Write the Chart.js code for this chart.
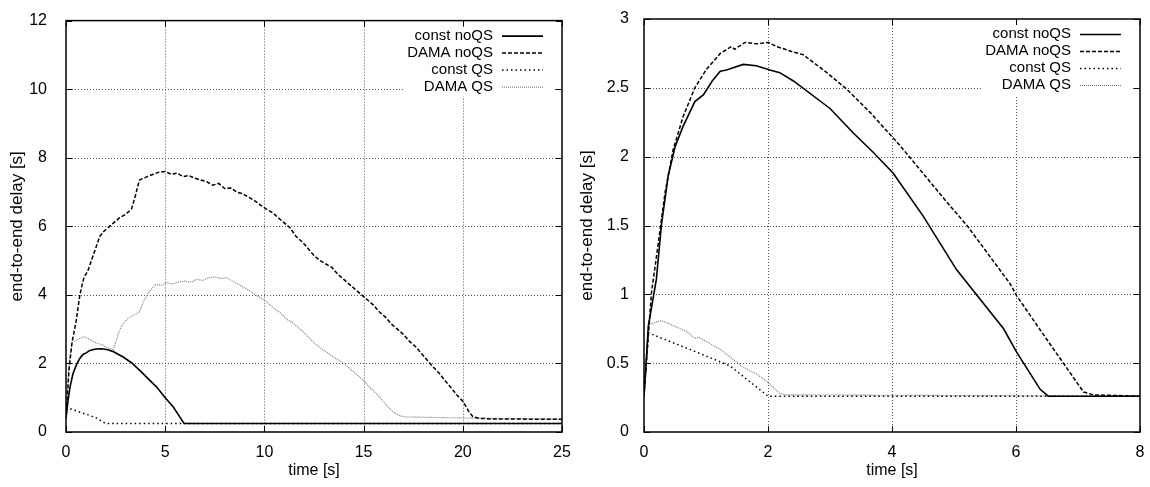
<!DOCTYPE html>
<html><head><meta charset="utf-8">
<script src="https://cdn.jsdelivr.net/npm/chart.js@4.4.1/dist/chart.umd.min.js"></script>
<style>
html,body{margin:0;padding:0;background:#fff;width:1150px;height:487px;overflow:hidden}
#l{position:absolute;left:0;top:0}
#r{position:absolute;left:575px;top:0}
</style></head><body>
<canvas id="l" width="575" height="487"></canvas>
<canvas id="r" width="575" height="487"></canvas>
<script>
const seriesNames = ['const noQS', 'DAMA noQS', 'const QS', 'DAMA QS'];
const xTitle = 'time [s]';
const yTitle = 'end-to-end delay [s]';

// ---- left panel ----
const leftXTicks = [0, 5, 10, 15, 20, 25];
const leftYTicks = [0, 2, 4, 6, 8, 10, 12];
const leftConstNoQS_t = [0, 0.1, 0.2, 0.35, 0.54, 0.7, 0.87, 1.0, 1.2, 1.5, 1.8, 2.1, 2.4, 2.9, 3.3, 3.73, 4.2, 4.57, 5.0, 5.41, 5.7, 5.95, 25];
const leftConstNoQS_v = [0.4, 0.9, 1.3, 1.7, 1.98, 2.15, 2.27, 2.3, 2.38, 2.42, 2.43, 2.4, 2.34, 2.18, 2.02, 1.79, 1.52, 1.31, 1.0, 0.73, 0.47, 0.25, 0.25];
const leftDamaNoQS_t = [0, 0.15, 0.3, 0.5, 0.7, 0.9, 1.1, 1.4, 1.7, 1.9, 2.1, 2.4, 2.7, 3.0, 3.3, 3.5, 3.7, 3.9, 4.1, 4.4, 4.7, 5.0, 5.3, 5.6, 5.9, 6.2, 6.5, 6.8, 7.1, 7.4, 7.7, 8.0, 8.3, 8.6, 8.9, 9.2, 9.5, 9.8, 10.1, 10.4, 10.7, 11.0, 11.3, 11.6, 11.9, 12.2, 12.5, 12.8, 13.1, 13.4, 13.7, 14.0, 14.3, 14.6, 14.9, 15.2, 15.5, 15.8, 16.1, 16.4, 16.7, 17.0, 17.3, 17.6, 17.9, 18.2, 18.5, 18.8, 19.1, 19.4, 19.7, 20.0, 20.3, 20.5, 20.8, 21.5, 25];
const leftDamaNoQS_v = [0.4, 1.8, 2.6, 3.2, 4.0, 4.5, 4.7, 5.2, 5.7, 5.85, 5.95, 6.1, 6.25, 6.35, 6.5, 6.9, 7.35, 7.4, 7.45, 7.52, 7.58, 7.6, 7.52, 7.55, 7.45, 7.48, 7.4, 7.35, 7.3, 7.2, 7.25, 7.1, 7.12, 7.0, 6.95, 6.85, 6.75, 6.62, 6.5, 6.4, 6.25, 6.1, 5.95, 5.7, 5.55, 5.35, 5.15, 5.0, 4.9, 4.8, 4.6, 4.45, 4.3, 4.15, 4.0, 3.85, 3.7, 3.5, 3.35, 3.15, 3.0, 2.85, 2.65, 2.5, 2.3, 2.1, 1.9, 1.72, 1.5, 1.3, 1.08, 0.9, 0.6, 0.45, 0.4, 0.38, 0.37];
const leftConstQS_t = [0, 0.5, 1.0, 1.5, 1.75, 2.0, 25];
const leftConstQS_v = [0.72, 0.62, 0.52, 0.42, 0.33, 0.25, 0.25];
const leftDamaQS_t = [0, 0.15, 0.3, 0.6, 0.9, 1.2, 1.5, 1.8, 2.1, 2.4, 2.6, 2.8, 3.1, 3.4, 3.7, 3.9, 4.2, 4.5, 4.8, 5.1, 5.4, 5.7, 6.0, 6.3, 6.6, 6.9, 7.2, 7.5, 7.8, 8.1, 8.4, 8.7, 9.0, 9.3, 9.6, 9.9, 10.2, 10.5, 10.8, 11.1, 11.4, 11.7, 12.0, 12.3, 12.6, 12.9, 13.2, 13.5, 13.8, 14.1, 14.4, 14.7, 15.0, 15.3, 15.6, 15.9, 16.2, 16.5, 16.8, 17.1, 18, 19, 20, 21, 25];
const leftDamaQS_v = [0.45, 2.0, 2.6, 2.7, 2.78, 2.7, 2.6, 2.55, 2.45, 2.4, 2.8, 3.1, 3.3, 3.4, 3.5, 3.8, 4.1, 4.3, 4.28, 4.35, 4.32, 4.38, 4.4, 4.37, 4.45, 4.42, 4.5, 4.52, 4.48, 4.5, 4.4, 4.3, 4.2, 4.1, 3.98, 3.88, 3.75, 3.6, 3.48, 3.3, 3.2, 3.05, 2.9, 2.72, 2.55, 2.42, 2.3, 2.18, 2.08, 1.95, 1.8, 1.65, 1.5, 1.3, 1.15, 0.95, 0.75, 0.58, 0.48, 0.44, 0.43, 0.42, 0.41, 0.4, 0.38];

// ---- right panel ----
const rightXTicks = [0, 2, 4, 6, 8];
const rightYTicks = [0, 0.5, 1, 1.5, 2, 2.5, 3];
const rightConstNoQS_t = [0, 0.07, 0.2, 0.28, 0.39, 0.5, 0.63, 0.82, 0.96, 1.1, 1.23, 1.33, 1.6, 1.81, 2.03, 2.19, 2.41, 3.0, 3.38, 3.7, 4.02, 4.5, 5.04, 5.8, 6.01, 6.39, 6.52, 8];
const rightConstNoQS_v = [0.26, 0.77, 1.11, 1.5, 1.86, 2.07, 2.22, 2.4, 2.45, 2.55, 2.62, 2.63, 2.67, 2.66, 2.63, 2.61, 2.55, 2.35, 2.17, 2.03, 1.88, 1.57, 1.18, 0.75, 0.58, 0.31, 0.26, 0.26];
const rightDamaNoQS_t = [0, 0.12, 0.23, 0.34, 0.47, 0.63, 0.82, 1.0, 1.23, 1.41, 1.46, 1.63, 1.82, 2.0, 2.14, 2.41, 2.57, 2.95, 3.27, 3.65, 4.13, 4.94, 5.21, 5.9, 6.01, 6.5, 7.09, 7.25, 8];
const rightDamaNoQS_v = [0.26, 1.01, 1.37, 1.74, 2.05, 2.29, 2.5, 2.63, 2.75, 2.8, 2.78, 2.83, 2.82, 2.83, 2.8, 2.76, 2.74, 2.61, 2.49, 2.32, 2.08, 1.64, 1.5, 1.08, 0.99, 0.67, 0.29, 0.27, 0.26];
const rightConstQS_t = [0, 0.07, 0.85, 1.39, 2.0, 8];
const rightConstQS_v = [0.26, 0.72, 0.58, 0.48, 0.26, 0.26];
const rightDamaQS_t = [0, 0.07, 0.28, 0.69, 0.82, 0.88, 1.23, 1.6, 1.82, 2.0, 2.19, 2.3, 8];
const rightDamaQS_v = [0.26, 0.78, 0.81, 0.73, 0.68, 0.69, 0.6, 0.47, 0.42, 0.36, 0.28, 0.27, 0.26];

const FONT = '"Liberation Sans", Arial, Helvetica, sans-serif';
const styles = [
  {borderColor: '#000', borderWidth: 1.6, borderDash: []},
  {borderColor: '#000', borderWidth: 1.5, borderDash: [4, 2]},
  {borderColor: '#000', borderWidth: 1.5, borderDash: [1.5, 3]},
  {borderColor: '#777', borderWidth: 1.1, borderDash: [1, 1]}
];
const zip = (t, v) => t.map((x, i) => ({x: x, y: v[i]}));

const framePlugin = {
  id: 'frame',
  beforeDatasetsDraw(chart) {
    const {ctx, chartArea: a, scales: {x, y}} = chart;
    ctx.save();
    ctx.strokeStyle = '#555'; ctx.lineWidth = 1; ctx.setLineDash([1, 2]);
    x.ticks.forEach(t => {
      const p = Math.round(x.getPixelForValue(t.value)) + 0.5;
      if (p <= a.left + 2 || p >= a.right - 2) return;
      ctx.beginPath(); ctx.moveTo(p, a.top); ctx.lineTo(p, a.bottom); ctx.stroke();
    });
    y.ticks.forEach(t => {
      const p = Math.round(y.getPixelForValue(t.value)) + 0.5;
      if (p <= a.top + 2 || p >= a.bottom - 2) return;
      ctx.beginPath(); ctx.moveTo(a.left, p); ctx.lineTo(a.right, p); ctx.stroke();
    });
    ctx.restore();
  },
  afterDatasetsDraw(chart) {
    const {ctx, chartArea: a, scales: {x, y}} = chart;
    ctx.save();
    // legend
    ctx.font = '15px ' + FONT;
    const ds = chart.data.datasets;
    const textEnd = a.right - 69;
    let maxW = 0;
    ds.forEach(d => { maxW = Math.max(maxW, ctx.measureText(d.label).width); });
    ctx.fillStyle = '#fff';
    ctx.fillRect(textEnd - maxW - 4, a.top + 1, a.right - 9 - (textEnd - maxW - 4), 75);
    ds.forEach((d, i) => {
      const cy = a.top + 15 + i * 17;
      ctx.fillStyle = '#000'; ctx.textAlign = 'right'; ctx.textBaseline = 'middle';
      ctx.fillText(d.label, textEnd, cy);
      ctx.strokeStyle = d.borderColor; ctx.lineWidth = d.borderWidth;
      ctx.setLineDash(d.borderDash);
      ctx.beginPath(); ctx.moveTo(a.right - 60, cy + 0.5); ctx.lineTo(a.right - 19, cy + 0.5); ctx.stroke();
    });
    // inward tick marks
    ctx.setLineDash([]); ctx.strokeStyle = '#000'; ctx.lineWidth = 1;
    x.ticks.forEach(t => {
      const p = Math.round(x.getPixelForValue(t.value)) + 0.5;
      ctx.beginPath(); ctx.moveTo(p, a.bottom); ctx.lineTo(p, a.bottom - 6);
      ctx.moveTo(p, a.top); ctx.lineTo(p, a.top + 6); ctx.stroke();
    });
    y.ticks.forEach(t => {
      const p = Math.round(y.getPixelForValue(t.value)) + 0.5;
      ctx.beginPath(); ctx.moveTo(a.left, p); ctx.lineTo(a.left + 6, p);
      ctx.moveTo(a.right, p); ctx.lineTo(a.right - 6, p); ctx.stroke();
    });
    // frame
    ctx.lineWidth = 1.5;
    ctx.strokeRect(a.left, a.top, a.right - a.left, a.bottom - a.top);
    ctx.restore();
  }
};

function makeChart(id, series, xTicks, yTicks, pad, yWidth, yTickPad, yTitlePad) {
  const datasets = series.map((s, i) => Object.assign({
    label: seriesNames[i], data: s, pointRadius: 0, tension: 0, fill: false
  }, styles[i]));
  const xs = xTicks, ys = yTicks;
  return new Chart(document.getElementById(id), {
    type: 'line',
    data: {datasets},
    plugins: [framePlugin],
    options: {
      responsive: false, animation: false, devicePixelRatio: 1,
      layout: {padding: pad},
      plugins: {legend: {display: false}, tooltip: {enabled: false}},
      scales: {
        x: {
          type: 'linear', min: xs[0], max: xs[xs.length - 1],
          afterBuildTicks: s => { s.ticks = xs.map(v => ({value: v})); },
          ticks: {color: '#000', font: {family: FONT, size: 16}, padding: 3, maxRotation: 0, autoSkip: false,
                  callback: v => String(v)},
          grid: {display: false}, border: {display: false},
          title: {display: true, text: xTitle, color: '#000', font: {family: FONT, size: 16}, padding: {top: 0, bottom: 7}},
          afterFit: s => { s.height = 55; }
        },
        y: {
          type: 'linear', min: ys[0], max: ys[ys.length - 1],
          afterBuildTicks: s => { s.ticks = ys.map(v => ({value: v})); },
          ticks: {color: '#000', font: {family: FONT, size: 16}, padding: yTickPad, autoSkip: false,
                  callback: v => String(v)},
          grid: {display: false}, border: {display: false},
          title: {display: true, text: yTitle, color: '#000', font: {family: FONT, size: 17}, padding: {top: yTitlePad, bottom: 0}},
          afterFit: s => { s.width = yWidth; }
        }
      }
    }
  });
}

makeChart('l', [
  zip(leftConstNoQS_t, leftConstNoQS_v),
  zip(leftDamaNoQS_t, leftDamaNoQS_v),
  zip(leftConstQS_t, leftConstQS_v),
  zip(leftDamaQS_t, leftDamaQS_v)
], leftXTicks, leftYTicks, {left: 0, right: 13, top: 16, bottom: 0}, 66, 11, 7);

makeChart('r', [
  zip(rightConstNoQS_t, rightConstNoQS_v),
  zip(rightDamaNoQS_t, rightDamaNoQS_v),
  zip(rightConstQS_t, rightConstQS_v),
  zip(rightDamaQS_t, rightDamaQS_v)
], rightXTicks, rightYTicks, {left: 0, right: 10, top: 19, bottom: 0}, 69, 7, 2);
</script>
</body></html>
